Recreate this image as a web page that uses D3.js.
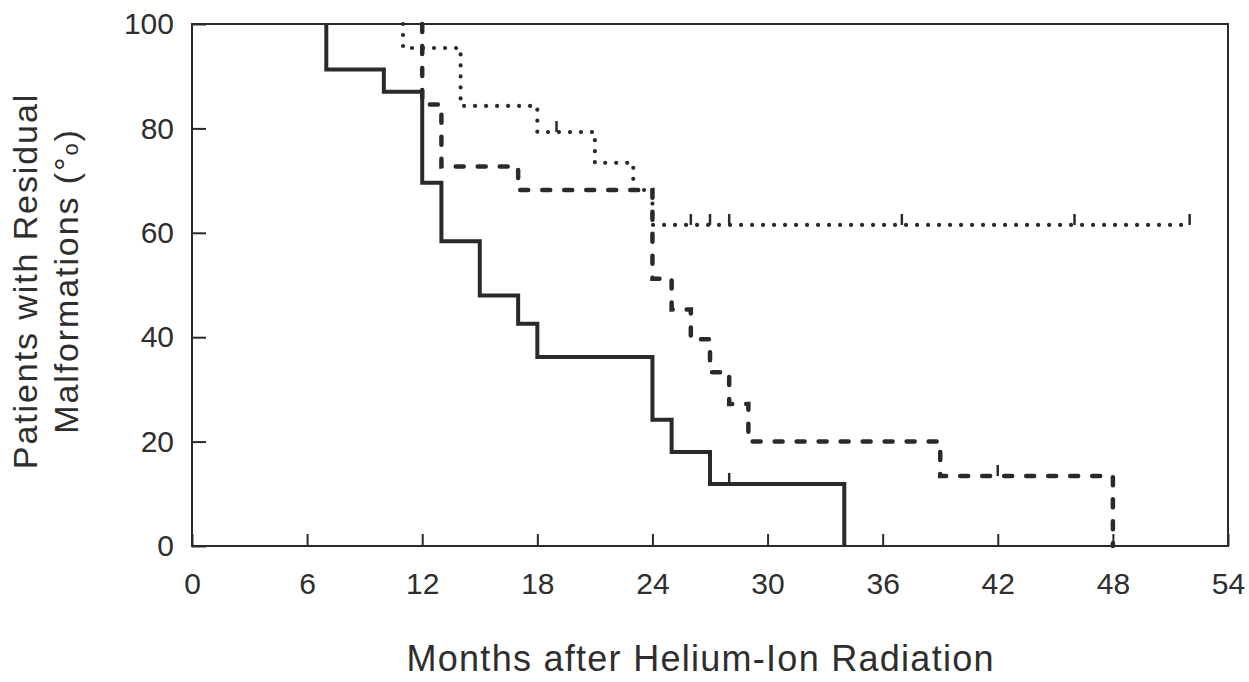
<!DOCTYPE html>
<html>
<head>
<meta charset="utf-8">
<script src="https://cdn.jsdelivr.net/npm/d3@7"></script>
<style>
  body { margin: 0; background: #fff; }
  text { font-family: "Liberation Sans", Arial, sans-serif; fill: #2e2e2e; }
</style>
</head>
<body>
<svg width="1249" height="682"></svg>
<script>
const xTicks = [0, 6, 12, 18, 24, 30, 36, 42, 48, 54]
const yTicks = [0, 20, 40, 60, 80, 100]

// solid curve
const solidMonths = [7, 7, 10, 12, 13, 15, 17, 18, 24, 25, 27, 34]
const solidValues = [100, 91.3, 87, 69.6, 58.4, 48, 42.6, 36.2, 24.2, 18, 11.9, 0]
const solidCensored = [28]

// dashed curve
const dashedMonths = [12, 12, 13, 17, 24, 25, 26, 27, 28, 29, 39, 48]
const dashedValues = [100, 84.6, 72.7, 68.2, 51.2, 45.3, 39.6, 33.3, 27.2, 20, 13.4, 0]
const dashedCensored = [42]

// dotted curve
const dottedMonths = [11, 11, 14, 18, 21, 23, 24, 52]
const dottedValues = [100, 95.4, 84.3, 79.3, 73.4, 68.2, 61.5, 61.5]
const dottedCensored = [19, 26, 27, 28, 37, 46, 52]

const svg = d3.select('svg')
const ink = '#2a2a2a'

const x = d3.scaleLinear().domain([0, 54]).range([192, 1228])
const y = d3.scaleLinear().domain([0, 100]).range([546, 24])

// frame
svg.append('rect')
    .attr('x', x(0)).attr('y', y(100))
    .attr('width', x(54) - x(0)).attr('height', y(0) - y(100))
    .attr('fill', 'none').attr('stroke', ink).attr('stroke-width', 2)

const xAxis = svg.append('g')
    .attr('transform', `translate(0,${y(0)})`)
    .call(d3.axisBottom(x).tickValues(xTicks).tickSize(-12).tickPadding(27))
const yAxis = svg.append('g')
    .attr('transform', `translate(${x(0)},0)`)
    .call(d3.axisLeft(y).tickValues(yTicks).tickSize(-14).tickPadding(18))

;[xAxis, yAxis].forEach(g => {
    g.select('.domain').remove()
    g.selectAll('line').attr('stroke', ink).attr('stroke-width', 2)
    g.selectAll('text').style('font-size', '30px').attr('fill', '#2e2e2e')
})

const series = [
    {months: solidMonths, values: solidValues, censored: solidCensored,
     width: 4, dash: null, cap: 'butt'},
    {months: dashedMonths, values: dashedValues, censored: dashedCensored,
     width: 4.5, dash: '8,14', cap: 'round'},
    {months: dottedMonths, values: dottedValues, censored: dottedCensored,
     width: 4.2, dash: '0,11', cap: 'round'}
]

const line = d3.line()
    .x(d => x(d[0]))
    .y(d => y(d[1]))
    .curve(d3.curveStepAfter)

series.forEach(s => {
    const pts = s.months.map((m, i) => [m, s.values[i]])
    svg.append('path')
        .attr('d', line(pts))
        .attr('fill', 'none')
        .attr('stroke', ink)
        .attr('stroke-width', s.width)
        .attr('stroke-dasharray', s.dash)
        .attr('stroke-linecap', s.cap)

    // censor marks: small upward ticks on the curve
    svg.selectAll(null).data(s.censored).enter().append('line')
        .attr('x1', d => x(d)).attr('x2', d => x(d))
        .attr('y1', d => y(s.values[d3.bisectRight(s.months, d) - 1]))
        .attr('y2', d => y(s.values[d3.bisectRight(s.months, d) - 1]) - 11)
        .attr('stroke', ink)
        .attr('stroke-width', 2.5)
})

// axis titles
svg.append('text')
    .attr('x', 700).attr('y', 671)
    .attr('text-anchor', 'middle')
    .attr('textLength', 587)
    .style('font-size', '36px')
    .text('Months after Helium-Ion Radiation')

svg.append('text')
    .attr('transform', 'translate(37,281) rotate(-90)')
    .attr('text-anchor', 'middle')
    .style('font-size', '34px')
    .style('letter-spacing', '1.9px')
    .text('Patients with Residual')

const t2 = svg.append('text')
    .attr('transform', 'translate(78,281) rotate(-90)')
    .attr('text-anchor', 'middle')
    .style('font-size', '34px')
    .style('letter-spacing', '1.9px')
t2.append('tspan').text('Malformations (°')
t2.append('tspan').style('font-size', '22px').text('o')
t2.append('tspan').text(')')
</script>
</body>
</html>
